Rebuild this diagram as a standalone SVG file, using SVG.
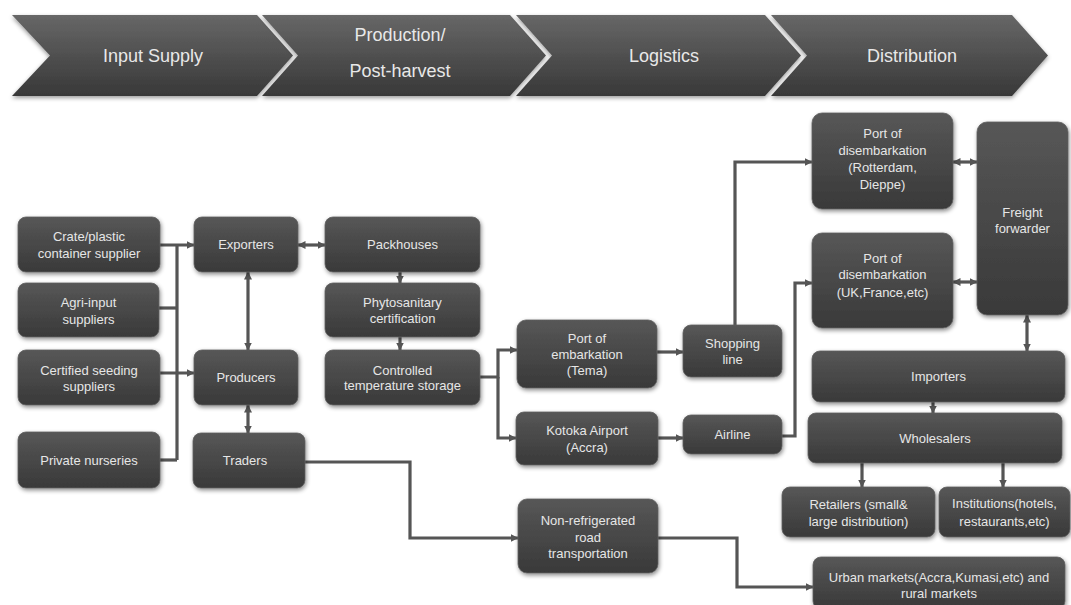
<svg xmlns="http://www.w3.org/2000/svg" width="1071" height="605" viewBox="0 0 1071 605">
<style>
.n rect{fill:url(#ng);stroke:#606060;stroke-width:0.8;filter:url(#sh)}
.n text{font-family:"Liberation Sans",Arial,sans-serif;font-size:13px;fill:#e6e6e6;text-anchor:middle}
.h polygon{fill:url(#hg);filter:url(#sh2)}
.h text{font-family:"Liberation Sans",Arial,sans-serif;font-size:18px;fill:#e8e8e8;text-anchor:middle}
.c path{fill:none;stroke:#555;stroke-width:3.2}
.a{marker-end:url(#ar)}
.b{marker-end:url(#ar);marker-start:url(#ar)}
</style>
<defs>
<linearGradient id="ng" x1="0" y1="0" x2="0" y2="1"><stop offset="0" stop-color="#575757"/><stop offset="1" stop-color="#393939"/></linearGradient>
<linearGradient id="hg" x1="0" y1="0" x2="0" y2="1"><stop offset="0" stop-color="#676767"/><stop offset="1" stop-color="#383838"/></linearGradient>
<filter id="sh" x="-20%" y="-20%" width="140%" height="150%"><feDropShadow dx="1" dy="2" stdDeviation="2" flood-color="#000" flood-opacity="0.45"/></filter>
<filter id="sh2" x="-10%" y="-20%" width="120%" height="150%"><feDropShadow dx="0" dy="2" stdDeviation="2" flood-color="#000" flood-opacity="0.4"/></filter>
<marker id="ar" viewBox="0 0 8 8" refX="7.5" refY="4" markerWidth="8" markerHeight="8" markerUnits="userSpaceOnUse" orient="auto-start-reverse"><path d="M0,0 L8,4 L0,8 z" fill="#555"/></marker>
</defs>
<rect width="1071" height="605" fill="#fff"/>
<g class="h" id="header">
<g id="h1"><polygon points="12,15 257,15 293,55.5 257,96 12,96 50,55.5"/><text x="153" y="62">Input Supply</text></g>
<g id="h2"><polygon points="262,15 510,15 546,55.5 510,96 262,96 298,55.5"/><text x="400" y="41">Production/</text><text x="400" y="77">Post-harvest</text></g>
<g id="h3"><polygon points="516,15 765,15 801,55.5 765,96 516,96 552,55.5"/><text x="664" y="62">Logistics</text></g>
<g id="h4"><polygon points="771,15 1012,15 1048,55.5 1012,96 771,96 807,55.5"/><text x="912" y="62">Distribution</text></g>
</g>
<g class="c" id="connectors">
<path d="M177,245 V460"/>
<path class="a" d="M160,245 H194"/>
<path d="M159,308 H177"/>
<path class="a" d="M160,373 H194"/>
<path d="M160,460 H177"/>
<path class="b" d="M248,272 V350"/>
<path class="b" d="M248,405 V433"/>
<path class="b" d="M298,245 H325"/>
<path class="a" d="M400,272 V283"/>
<path class="a" d="M400,337 V350"/>
<path class="a" d="M480,377 H498 V350 H517"/>
<path class="a" d="M498,377 V438 H516"/>
<path class="a" d="M657,352 H683"/>
<path class="a" d="M658,438 H683"/>
<path class="a" d="M735,325 V162 H812"/>
<path class="a" d="M782,436 H795 V283 H812"/>
<path class="b" d="M953,162 H977"/>
<path class="b" d="M953,282 H977"/>
<path class="b" d="M1027,315 V351"/>
<path class="a" d="M933,402 V413"/>
<path class="a" d="M862,463 V487"/>
<path class="a" d="M1003,463 V487"/>
<path class="a" d="M305,462 H410 V538 H518"/>
<path class="a" d="M658,538 H737 V587 H813"/>
</g>
<g class="n">
<g id="crate"><rect x="18" y="217" width="142" height="55" rx="8"/><text x="89" y="241">Crate/plastic</text><text x="89" y="257.5">container supplier</text></g>
<g id="agri"><rect x="18" y="283" width="141" height="54" rx="8"/><text x="88.5" y="307">Agri-input</text><text x="88.5" y="323.5">suppliers</text></g>
<g id="certified"><rect x="18" y="350" width="142" height="55" rx="8"/><text x="89" y="374.5">Certified seeding</text><text x="89" y="391">suppliers</text></g>
<g id="nurseries"><rect x="18" y="432" width="142" height="56" rx="8"/><text x="89" y="464.5">Private nurseries</text></g>
<g id="exporters"><rect x="194" y="217" width="104" height="55" rx="8"/><text x="246" y="249">Exporters</text></g>
<g id="producers"><rect x="194" y="350" width="104" height="55" rx="8"/><text x="246" y="382">Producers</text></g>
<g id="traders"><rect x="193" y="433" width="112" height="55" rx="8"/><text x="245" y="465">Traders</text></g>
<g id="packhouses"><rect x="325" y="217" width="155" height="55" rx="8"/><text x="402.5" y="249">Packhouses</text></g>
<g id="phyto"><rect x="325" y="283" width="155" height="54" rx="8"/><text x="402.5" y="306.5">Phytosanitary</text><text x="402.5" y="322.5">certification</text></g>
<g id="storage"><rect x="325" y="350" width="155" height="55" rx="8"/><text x="402.5" y="374.5">Controlled</text><text x="402.5" y="390">temperature storage</text></g>
<g id="tema"><rect x="517" y="320" width="140" height="68" rx="9"/><text x="587" y="342.5">Port of</text><text x="587" y="358.5">embarkation</text><text x="587" y="374.5">(Tema)</text></g>
<g id="shopping"><rect x="683" y="325" width="99" height="52" rx="8"/><text x="732.5" y="347.5">Shopping</text><text x="732.5" y="364">line</text></g>
<g id="kotoka"><rect x="516" y="412" width="142" height="53" rx="8"/><text x="587" y="435">Kotoka Airport</text><text x="587" y="451.5">(Accra)</text></g>
<g id="airline"><rect x="683" y="415" width="99" height="39" rx="8"/><text x="732.5" y="439">Airline</text></g>
<g id="nonref"><rect x="518" y="499" width="140" height="74" rx="9"/><text x="588" y="525">Non-refrigerated</text><text x="588" y="541.5">road</text><text x="588" y="558">transportation</text></g>
<g id="rotterdam"><rect x="812" y="113" width="141" height="96" rx="10"/><text x="882.5" y="137.5">Port of</text><text x="882.5" y="155">disembarkation</text><text x="882.5" y="172">(Rotterdam,</text><text x="882.5" y="189">Dieppe)</text></g>
<g id="uk"><rect x="812" y="233" width="141" height="95" rx="10"/><text x="882.5" y="262.5">Port of</text><text x="882.5" y="279">disembarkation</text><text x="882.5" y="296.5">(UK,France,etc)</text></g>
<g id="freight"><rect x="977" y="122" width="91" height="193" rx="10"/><text x="1022.5" y="216.5">Freight</text><text x="1022.5" y="232.5">forwarder</text></g>
<g id="importers"><rect x="812" y="351" width="253" height="51" rx="8"/><text x="938.5" y="381">Importers</text></g>
<g id="wholesalers"><rect x="808" y="413" width="254" height="50" rx="8"/><text x="935" y="442.5">Wholesalers</text></g>
<g id="retailers"><rect x="782" y="487" width="153" height="50" rx="8"/><text x="858.5" y="508.5">Retailers (small&amp;</text><text x="858.5" y="525.5">large distribution)</text></g>
<g id="institutions"><rect x="939" y="487" width="131" height="50" rx="8"/><text x="1004.5" y="508">Institutions(hotels,</text><text x="1004.5" y="525.5">restaurants,etc)</text></g>
<g id="urban"><rect x="813" y="557" width="252" height="52" rx="8"/><text x="939" y="581.5">Urban markets(Accra,Kumasi,etc) and</text><text x="939" y="598">rural markets</text></g>
</g>
</svg>
